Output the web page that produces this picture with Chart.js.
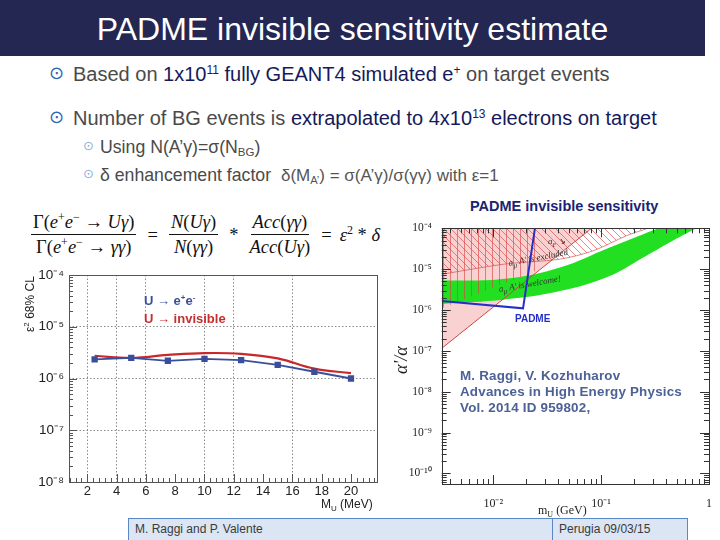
<!DOCTYPE html>
<html>
<head>
<meta charset="utf-8">
<script src="https://cdn.jsdelivr.net/npm/chart.js@4.4.1/dist/chart.umd.min.js"></script>
<style>
body { margin:0; width:720px; height:540px; position:relative; background:#fff; overflow:hidden;
       font-family:'Liberation Sans', Arial, sans-serif; }
.abs { position:absolute; white-space:nowrap; }
#titlebar { left:0; top:0; width:705px; height:56px; background:#232751; color:#fff;
            font-size:32px; line-height:58px; text-align:center; }
.bl { font-size:20px; line-height:22px; color:#4a4a4a; }
.bl .hi { color:#141a5a; }
.bl sup { font-size:60%; line-height:0; vertical-align:0.6em; }
.dot { font-family:'DejaVu Sans'; color:#2f66ad; font-size:18px; }
.dot2 { font-family:'DejaVu Sans'; color:#8db0d8; font-size:13px; }
.sb { font-size:17.7px; line-height:20px; color:#4a4a4a; }
.sb sub { font-size:65%; line-height:0; vertical-align:-0.25em; }
.narrow { font-size:17px; color:#555; }
#formula { left:28px; top:212px; font-family:'Liberation Serif', serif; font-size:18.5px; color:#111;
           display:flex; align-items:center; }
.frac { display:inline-flex; flex-direction:column; align-items:center; margin:0 3px; }
.frac .num { border-bottom:1px solid #111; padding:0 2px 1px 2px; }
.frac .den { padding-top:2px; }
#formula sup { font-size:65%; line-height:0; vertical-align:0.6em; }
.op { margin:0 8px; }
.leg { font-size:13px; font-weight:bold; }
.rtitle { left:470px; top:198px; font-size:14.5px; font-weight:bold; color:#1c2470; }
.ref { left:460px; font-size:13.4px; color:#4c6195; font-weight:bold; letter-spacing:0.2px; }
.tiny { font-family:'Liberation Serif', serif; font-style:italic; font-size:9px; color:#333; transform-origin:left bottom; }
.foot { top:518px; height:24px; background:#dbe5f4; border:1.5px solid #5a88c6; box-sizing:border-box;
        font-size:12px; color:#3a3a3a; line-height:21px; padding-left:6px; }
</style>
</head>
<body>
<div id="titlebar" class="abs">PADME invisible sensitivity estimate</div>

<div class="abs dot" style="left:49px; top:62px;">&#x2299;</div>
<div class="abs bl" style="left:73px; top:63px;">Based on <span class="hi">1x10<sup>11</sup> fully GEANT4 simulated e<sup>+</sup></span> on target events</div>
<div class="abs dot" style="left:49px; top:106px;">&#x2299;</div>
<div class="abs bl" style="left:73px; top:107px;">Number of BG events is <span class="hi">extrapolated to 4x10<sup>13</sup> electrons on target</span></div>
<div class="abs dot2" style="left:83px; top:138px;">&#x2299;</div>
<div class="abs sb" style="left:100px; top:137px;">Using N(A&rsquo;&gamma;)=&sigma;(N<sub>BG</sub>)</div>
<div class="abs dot2" style="left:83px; top:166px;">&#x2299;</div>
<div class="abs sb" style="left:100px; top:165px;">&delta; enhancement factor&nbsp; <span class="narrow">&delta;(M<sub>A&rsquo;</sub>) = &sigma;(A&rsquo;&gamma;)/&sigma;(&gamma;&gamma;) with &epsilon;=1</span></div>

<div id="formula" class="abs">
  <span class="frac"><span class="num">&Gamma;(<i>e</i><sup>+</sup><i>e</i><sup>&minus;</sup> &rarr; <i>U&gamma;</i>)</span><span class="den">&Gamma;(<i>e</i><sup>+</sup><i>e</i><sup>&minus;</sup> &rarr; <i>&gamma;&gamma;</i>)</span></span>
  <span class="op">=</span>
  <span class="frac"><span class="num"><i>N</i>(<i>U&gamma;</i>)</span><span class="den"><i>N</i>(<i>&gamma;&gamma;</i>)</span></span>
  <span class="op">*</span>
  <span class="frac"><span class="num"><i>Acc</i>(<i>&gamma;&gamma;</i>)</span><span class="den"><i>Acc</i>(<i>U&gamma;</i>)</span></span>
  <span class="op">=</span>
  <span><i>&epsilon;</i><sup>2</sup> * <i>&delta;</i></span>
</div>

<div class="abs" style="left:0; top:255px; width:400px; height:260px;"><canvas id="left"></canvas></div>
<div class="abs leg" style="left:144px; top:293px; color:#3a4f9b;">U &rarr; e<sup style="font-size:8px">+</sup>e<sup style="font-size:8px">-</sup></div>
<div class="abs leg" style="left:144px; top:311px; color:#c42f2f;">U &rarr; invisible</div>
<div class="abs" style="left:22px; top:332px; font-size:12px; color:#222; transform:rotate(-90deg); transform-origin:left top;">&epsilon;<sup style="font-size:8px">2</sup> 68% CL</div>
<div class="abs" style="left:321px; top:497px; font-size:12px; color:#222;">M<sub style="font-size:8px">U</sub> (MeV)</div>

<div class="abs rtitle">PADME invisible sensitivity</div>
<div class="abs" style="left:405px; top:218px; width:315px; height:296px;"><canvas id="right"></canvas></div>
<div class="abs" style="left:391px; top:374px; font-family:'Liberation Serif', serif; font-style:italic; font-size:18px; line-height:20px; color:#222; transform:rotate(-90deg); transform-origin:left top;">&alpha;'/&alpha;</div>
<div class="abs" style="left:538px; top:503px; font-family:'Liberation Serif', serif; font-size:12px; color:#222;">m<sub style="font-size:8px">U</sub> (GeV)</div>
<div class="abs" style="left:515px; top:313px; font-size:10px; font-weight:bold; color:#2630c8;">PADME</div>
<div class="abs tiny" style="left:548px; top:236px;">a<sub>e</sub> &#x2198;</div>
<div class="abs tiny" style="left:510px; top:258px; transform:rotate(-11deg);">a<sub>&mu;</sub> A&prime; is excluded</div>
<div class="abs tiny" style="left:500px; top:284px; transform:rotate(-10deg);">a<sub>&mu;</sub> A&prime; is welcome!</div>
<div class="abs ref" style="top:368px;">M. Raggi, V. Kozhuharov</div>
<div class="abs ref" style="top:384px;">Advances in High Energy Physics</div>
<div class="abs ref" style="top:400px;">Vol. 2014 ID 959802,</div>

<div class="abs foot" style="left:128px; width:426px;">M. Raggi and P. Valente</div>
<div class="abs foot" style="left:552px; width:136px;">Perugia 09/03/15</div>

<script>
// left plot: eps^2 (68% CL) vs M_U [MeV]
var massMeV = [2.5, 5, 7.5, 10, 12.5, 15, 17.5, 20];
var epsEE   = [2.34e-6, 2.5e-6, 2.2e-6, 2.4e-6, 2.27e-6, 1.84e-6, 1.35e-6, 1.0e-6];
var epsInv  = [2.75e-6, 2.5e-6, 2.85e-6, 3.1e-6, 3.0e-6, 2.45e-6, 1.55e-6, 1.27e-6];
var xGridAt = [2, 4, 6, 10, 12, 16];

// right plot: alpha'/alpha vs m_U [GeV]
var diagX  = [0.00333, 0.0815];
var diagY  = [1.15e-7, 1e-4];
var aeX    = [0.00333, 0.0128, 0.0415, 0.0838, 0.172, 0.272];
var aeY    = [7.5e-6, 1.33e-5, 1.76e-5, 2.8e-5, 6.6e-5, 1e-4];
var vhX    = [0.00333, 0.027];
var vhY    = [1.1e-6, 1e-5];
var bandX  = [0.00333, 0.0128, 0.0415, 0.12, 0.243, 0.35, 0.43, 0.76];
var bandHi = [5.2e-6, 5.8e-6, 1.1e-5, 3.4e-5, 7.1e-5, 1e-4, 1e-4, 1e-4];
var bandLo = [1.4e-6, 1.8e-6, 2.9e-6, 6.8e-6, 1.9e-5, 3.3e-5, 4.5e-5, 1e-4];
var padmeX = [0.00333, 0.0189, 0.0246];
var padmeY = [1.66e-6, 1.1e-6, 1.2e-4];

var supMap = {'-':'\u207B','0':'\u2070','1':'\u00B9','2':'\u00B2','3':'\u00B3','4':'\u2074','5':'\u2075','6':'\u2076','7':'\u2077','8':'\u2078','9':'\u2079'};
function isDecade(v){ var l = Math.log10(v); return Math.abs(l - Math.round(l)) < 1e-9; }
function pow10Label(v){
	if(!isDecade(v)) return '';
	var e = Math.round(Math.log10(v));
	if(e === 0) return '1';
	return '10' + String(e).split('').map(function(c){ return supMap[c]; }).join('');
}
function logTicks(lo, hi){
	var t = [];
	for(var e = Math.floor(Math.log10(lo)); e <= Math.ceil(Math.log10(hi)); e++){
		for(var m = 1; m <= 9; m++){
			var v = m * Math.pow(10, e);
			if(v >= lo * 0.999 && v <= hi * 1.001) t.push({value: v, major: m === 1});
		}
	}
	return t;
}
function pts(xs, ys){ return xs.map(function(x, i){ return {x: x, y: ys[i]}; }); }

// ROOT style frame with ticks pointing inside
var rootFrame = {
	id: 'rootFrame',
	afterDatasetsDraw: function(chart, args, opts){
		var ctx = chart.ctx, a = chart.chartArea, sx = chart.scales.x, sy = chart.scales.y;
		ctx.save();
		ctx.strokeStyle = opts.color; ctx.lineWidth = 1;
		ctx.strokeRect(Math.round(a.left) + 0.5, Math.round(a.top) + 0.5, Math.round(a.right - a.left), Math.round(a.bottom - a.top));
		ctx.beginPath();
		sy.ticks.forEach(function(t){
			var y = Math.round(sy.getPixelForValue(t.value)) + 0.5, len = t.major ? opts.major : opts.minor;
			ctx.moveTo(a.left, y); ctx.lineTo(a.left + len, y);
			if(opts.mirror){ ctx.moveTo(a.right, y); ctx.lineTo(a.right - len, y); }
		});
		sx.ticks.forEach(function(t){
			var x = Math.round(sx.getPixelForValue(t.value)) + 0.5, len = t.major ? opts.major : opts.minor;
			ctx.moveTo(x, a.bottom); ctx.lineTo(x, a.bottom - len);
			if(opts.mirror){ ctx.moveTo(x, a.top); ctx.lineTo(x, a.top + len); }
		});
		ctx.stroke();
		ctx.restore();
	}
};

function hatch(kind){
	var c = document.createElement('canvas');
	c.width = 7; c.height = 7;
	var g = c.getContext('2d');
	g.strokeStyle = 'rgba(215,70,70,0.8)'; g.lineWidth = 0.8;
	g.beginPath();
	if(kind === 'diag'){
		g.moveTo(0, 0); g.lineTo(7, 7);
		g.moveTo(-1, 6); g.lineTo(1, 8);
		g.moveTo(6, -1); g.lineTo(8, 1);
	}else{
		g.moveTo(3.5, 0); g.lineTo(3.5, 7);
	}
	g.stroke();
	return g.createPattern(c, 'repeat');
}

Chart.defaults.animation = false;
Chart.defaults.plugins.legend.display = false;
Chart.defaults.plugins.tooltip.enabled = false;

new Chart(document.getElementById('left'), {
	type: 'line',
	data: {
		datasets: [
			{ data: pts(massMeV, epsEE), borderColor: '#3a4f9b', backgroundColor: '#3a4f9b', borderWidth: 1.8,
			  pointStyle: 'rect', pointRadius: 3.2, tension: 0 },
			{ data: pts(massMeV, epsInv), borderColor: '#c8282a', borderWidth: 2.2, pointRadius: 0, tension: 0.4 }
		]
	},
	options: {
		responsive: true, maintainAspectRatio: false, devicePixelRatio: 1,
		layout: { padding: { left: 0, top: 20, right: 23.4, bottom: 0 } },
		scales: {
			x: {
				type: 'linear', min: 0.75, max: 21.75,
				afterBuildTicks: function(s){
					var t = [];
					for(var k = 2; k <= 54; k++) t.push({value: Math.round(k * 4) / 10, major: k % 5 === 0});
					s.ticks = t;
				},
				afterFit: function(s){ s.height = 33; },
				ticks: { autoSkip: false, maxRotation: 0, padding: 2, color: '#222',
					font: { family: 'Liberation Sans', size: 13 },
					callback: function(v){ return (v % 2 === 0 && v >= 2 && v <= 20) ? String(v) : ''; } },
				grid: { drawTicks: false,
					color: function(c){ return (c.tick && xGridAt.indexOf(c.tick.value) >= 0) ? '#8a8a8a' : 'rgba(0,0,0,0)'; } },
				border: { display: false, dash: [1.5, 2] }
			},
			y: {
				type: 'logarithmic', min: 1e-8, max: 1e-4,
				afterBuildTicks: function(s){ s.ticks = logTicks(1e-8, 1e-4); },
				afterFit: function(s){ s.width = 69; },
				ticks: { autoSkip: false, padding: 5, color: '#222',
					font: { family: 'Liberation Sans', size: 13.5 },
					callback: function(v){ return pow10Label(v); } },
				grid: { drawTicks: false,
					color: function(c){ return (c.tick && isDecade(c.tick.value)) ? '#8a8a8a' : 'rgba(0,0,0,0)'; } },
				border: { display: false, dash: [1.5, 2] }
			}
		},
		plugins: { rootFrame: { color: '#555', major: 8, minor: 4, mirror: false } }
	},
	plugins: [rootFrame]
});

new Chart(document.getElementById('right'), {
	type: 'line',
	data: {
		datasets: [
			{ data: pts(padmeX, padmeY), borderColor: '#2630c8', borderWidth: 2, pointRadius: 0, order: 0 },
			{ data: pts(diagX, diagY), borderColor: '#d04545', borderWidth: 1, pointRadius: 0, order: 1 },
			{ data: pts(aeX, aeY), borderColor: 'rgba(210,70,70,0.8)', borderWidth: 0.8, pointRadius: 0, tension: 0.3,
			  fill: 'end', backgroundColor: hatch('diag'), order: 2 },
			{ data: pts(vhX, vhY), borderWidth: 0, pointRadius: 0, fill: 'end', backgroundColor: hatch('vert'), order: 3 },
			{ data: pts(bandX, bandHi), borderWidth: 0, pointRadius: 0, tension: 0.4, fill: '+1', backgroundColor: '#22df22', order: 4 },
			{ data: pts(bandX, bandLo), borderWidth: 0, pointRadius: 0, tension: 0.4, order: 5 },
			{ data: pts(diagX, diagY), borderWidth: 0, pointRadius: 0, fill: 'end', backgroundColor: 'rgba(248,198,198,0.8)', order: 6 }
		]
	},
	options: {
		responsive: true, maintainAspectRatio: false, devicePixelRatio: 1,
		layout: { padding: { left: 0, top: 10.3, right: 11, bottom: 0 } },
		scales: {
			x: {
				type: 'logarithmic', min: 0.00333, max: 1,
				afterBuildTicks: function(s){ s.ticks = logTicks(0.00333, 1); },
				afterFit: function(s){ s.height = 30; },
				ticks: { autoSkip: false, maxRotation: 0, padding: 5, color: '#222',
					font: { family: 'Liberation Serif', size: 12 },
					callback: function(v){ return pow10Label(v); } },
				grid: { display: false },
				border: { display: false }
			},
			y: {
				type: 'logarithmic', min: Math.pow(10, -10.26), max: 1e-4,
				afterBuildTicks: function(s){ s.ticks = logTicks(Math.pow(10, -10.26), 1e-4); },
				afterFit: function(s){ s.width = 36.7; },
				ticks: { autoSkip: false, padding: 2, color: '#222',
					font: { family: 'Liberation Serif', size: 11.5 },
					callback: function(v){ return pow10Label(v); } },
				grid: { display: false },
				border: { display: false }
			}
		},
		plugins: { rootFrame: { color: '#333', major: 9, minor: 5, mirror: true } }
	},
	plugins: [rootFrame]
});
</script>
</body>
</html>
